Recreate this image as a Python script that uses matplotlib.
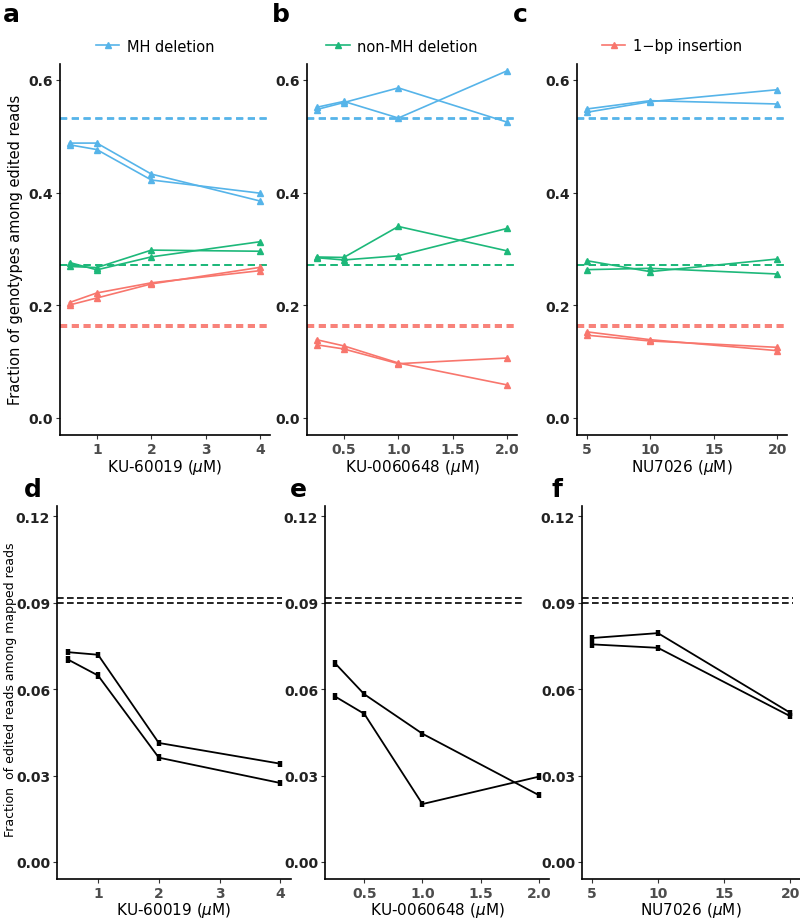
import matplotlib
matplotlib.use("Agg")
import matplotlib.pyplot as plt
from matplotlib.lines import Line2D

BLUE = "#56B4E9"
GREEN = "#1DB87A"
RED = "#F8766D"

# concentrations per drug
ku60019_x = [0.5, 1, 2, 4]
ku0060648_x = [0.25, 0.5, 1, 2]
nu7026_x = [5, 10, 20]

# panel a: fraction of genotypes, two replicates each
a_mh = [[0.488, 0.488, 0.433, 0.385], [0.485, 0.4765, 0.4225, 0.399]]
a_non = [[0.269, 0.267, 0.298, 0.296], [0.276, 0.263, 0.286, 0.313]]
a_ins = [[0.205, 0.222, 0.240, 0.2616], [0.2006, 0.213, 0.238, 0.2675]]

# panel b
b_mh = [[0.5475, 0.560, 0.586, 0.525], [0.5515, 0.562, 0.5325, 0.6166]]
b_non = [[0.2858, 0.285, 0.340, 0.2965], [0.2846, 0.2805, 0.288, 0.3367]]
b_ins = [[0.139, 0.128, 0.0976, 0.0586], [0.130, 0.1225, 0.0964, 0.1065]]

# panel c
c_mh = [[0.5485, 0.5633, 0.5574], [0.5426, 0.5615, 0.5828]]
c_non = [[0.2793, 0.2598, 0.2822], [0.2633, 0.2657, 0.2556]]
c_ins = [[0.153, 0.139, 0.1195], [0.147, 0.1367, 0.1254]]

# control baselines (two replicates)
ctrl_mh = [0.531, 0.533]
ctrl_non = [0.271, 0.272]
ctrl_ins = [0.162, 0.165]

# panels d-f: fraction of edited reads
d_edit = [[0.0728, 0.0719, 0.0413, 0.0341], [0.0703, 0.0647, 0.0362, 0.0274]]
e_edit = [[0.0689, 0.0582, 0.0445, 0.0232], [0.0574, 0.0514, 0.0201, 0.0296]]
f_edit = [[0.0777, 0.0794, 0.0518], [0.0755, 0.0743, 0.0506]]
ctrl_edit = [0.0915, 0.0900]

x_labels = ["KU-60019 ($\\mu$M)", "KU-0060648 ($\\mu$M)", "NU7026 ($\\mu$M)"]
legend_names = ["MH deletion", "non-MH deletion", "1\u2212bp insertion"]

W, H = 800, 920
fig = plt.figure(figsize=(8, 9.2), dpi=100)


def box(l, r, t, b):
    return fig.add_axes([l / W, 1 - b / H, (r - l) / W, (b - t) / H])


def style(ax, xlim, ylim, xticks, xtl, yticks, ytl):
    ax.set_xlim(xlim)
    ax.set_ylim(ylim)
    for s in ["top", "right"]:
        ax.spines[s].set_visible(False)
    for s in ["left", "bottom"]:
        ax.spines[s].set_linewidth(1.2)
    ax.set_xticks(xticks)
    ax.set_xticklabels(xtl, fontsize=10, fontweight="bold", color="#4D4D4D")
    ax.set_yticks(yticks)
    ax.set_yticklabels(ytl, fontsize=10, fontweight="bold", color="#222222")
    ax.tick_params(length=3, width=0.8, color="#333333", pad=2)


top_boxes = [(60, 270, 65, 436), (307, 517, 65, 436), (577, 787, 65, 436)]
bot_boxes = [(57, 291, 507, 880), (325, 549, 507, 880), (582, 800, 507, 880)]
bot_dash_end = [0.96, 0.89, 0.97]
xs = [ku60019_x, ku0060648_x, nu7026_x]
xlims = [(0.325, 4.175), (0.1625, 2.0875), (4.25, 20.75)]
xticks = [[1, 2, 3, 4], [0.5, 1.0, 1.5, 2.0], [5, 10, 15, 20]]
xtls = [["1", "2", "3", "4"], ["0.5", "1.0", "1.5", "2.0"], ["5", "10", "15", "20"]]
top_data = [(a_mh, a_non, a_ins), (b_mh, b_non, b_ins), (c_mh, c_non, c_ins)]
bot_data = [d_edit, e_edit, f_edit]
colors = [BLUE, GREEN, RED]
ctrls = [ctrl_mh, ctrl_non, ctrl_ins]

for i in range(3):
    ax = box(*top_boxes[i])
    for k in range(3):
        for v in ctrls[k]:
            ax.axhline(v, color=colors[k], lw=1.3, dashes=(4, 2.5))
        for rep in top_data[i][k]:
            ax.plot(xs[i], rep, color=colors[k], lw=1.2, marker="^", ms=5)
    style(ax, xlims[i], (-0.0302, 0.6284), xticks[i], xtls[i],
          [0.0, 0.2, 0.4, 0.6], ["0.0", "0.2", "0.4", "0.6"])
    cx = (top_boxes[i][0] + top_boxes[i][1]) / 2
    fig.text(cx / W, 1 - 468 / H, x_labels[i], ha="center", va="center", fontsize=11)
    # single-entry legend above each top panel
    h = Line2D([], [], color=colors[i], lw=1.2, marker="^", ms=5)
    fig.legend([h], [legend_names[i]], loc="center",
               bbox_to_anchor=((cx - 10) / W, 1 - 47 / H),
               frameon=False, fontsize=10.5, handlelength=1.6, handletextpad=0.5)

    ax = box(*bot_boxes[i])
    for v in ctrl_edit:
        ax.axhline(v, xmax=bot_dash_end[i], color="black", lw=1.2, dashes=(4, 2))
    for rep in bot_data[i]:
        ax.errorbar(xs[i], rep, yerr=0.0011, color="black", lw=1.3,
                    elinewidth=3.2, capsize=0)
    style(ax, xlims[i], (-0.0059, 0.1235), xticks[i], xtls[i],
          [0.0, 0.03, 0.06, 0.09, 0.12], ["0.00", "0.03", "0.06", "0.09", "0.12"])
    cx = (bot_boxes[i][0] + bot_boxes[i][1]) / 2
    fig.text(cx / W, 1 - 911 / H, x_labels[i], ha="center", va="center", fontsize=11)

fig.text(8 / W, 1 - 250 / H, "Fraction of genotypes among edited reads",
         rotation=90, ha="left", va="center", fontsize=10.5)
fig.text(4 / W, 1 - 690 / H, "Fraction  of edited reads among mapped reads",
         rotation=90, ha="left", va="center", fontsize=9)

for lab, px, py in [("a", 3, 15), ("b", 272, 15), ("c", 513, 15),
                    ("d", 24, 490), ("e", 290, 490), ("f", 551, 490)]:
    fig.text(px / W, 1 - py / H, lab, fontsize=18, fontweight="bold",
             ha="left", va="center")

fig.savefig("out.png", dpi=100)
